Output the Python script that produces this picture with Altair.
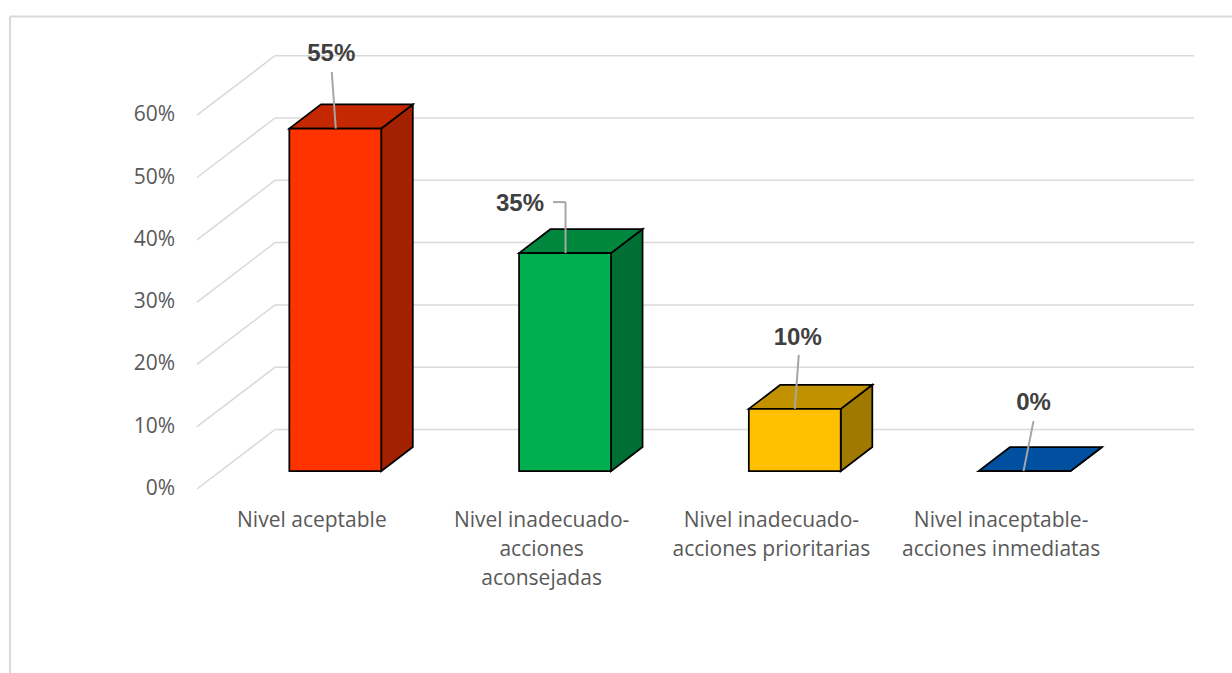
import altair as alt
import pandas as pd

# ---- chart content ----
categories = [
    "Nivel aceptable",
    "Nivel inadecuado-\nacciones\naconsejadas",
    "Nivel inadecuado-\nacciones prioritarias",
    "Nivel inaceptable-\nacciones inmediatas",
]
values = [55, 35, 10, 0]
value_labels = ["55%", "35%", "10%", "0%"]
y_ticks = [0, 10, 20, 30, 40, 50, 60]
y_tick_labels = ["0%", "10%", "20%", "30%", "40%", "50%", "60%"]
front_colors = ["#FF3300", "#00B050", "#FFC000", "#0070C0"]
top_colors = ["#C32800", "#00873D", "#C29100", "#00509F"]
side_colors = ["#A12100", "#006F33", "#A07A00", "#003F80"]

# ---- layout (pixels) ----
W, H = 1232, 673
ORIGIN_X, ORIGIN_Y = 197.0, 489.0      # front-left corner of the floor at 0%
CAT_PX = 229.75                        # width of one category slot
PCT_PX = 6.23                          # height of one percentage point
DEPTH_PX = (78.0, 59.5)                # oblique shift from front edge to back wall
BAR_DEPTH = (0.30, 0.705)              # bar front / back as a fraction of floor depth
BAR_WIDTH = 0.40
label_offsets = [(-4, -75), (-45, -49), (3, -71), (9, -68)]
leader_paths = [
    [(-3.5, -56.5), (0.5, 0)],
    [(-12, -51), (0.5, -51), (0.5, 0)],
    [(4, -54), (0, 0)],
    [(9, -50), (-1, 0)],
]

KX = DEPTH_PX[0] / CAT_PX
KY = DEPTH_PX[1] / PCT_PX


def project(c, v, d):
    """Category/percent point at depth d (0 = front, 1 = back wall) in data units."""
    return c + KX * d, v + KY * d


def shift(pt, dx, dy):
    return pt[0] + dx / CAT_PX, pt[1] - dy / PCT_PX


x_scale = alt.Scale(domain=[-ORIGIN_X / CAT_PX, (W - ORIGIN_X) / CAT_PX], nice=False, zero=False)
y_scale = alt.Scale(domain=[(ORIGIN_Y - H) / PCT_PX, ORIGIN_Y / PCT_PX], nice=False, zero=False)
n = len(categories)

# gridlines: diagonal on the side wall + horizontal on the back wall
grid_rows = []
for t in y_ticks:
    a, b, c = project(0, t, 0), project(0, t, 1), project(n, t, 1)
    grid_rows.append(dict(x=a[0], y=a[1], x2=b[0], y2=b[1]))
    grid_rows.append(dict(x=b[0], y=b[1], x2=c[0], y2=c[1]))
grid_df = pd.DataFrame(grid_rows)

front_rows, side_rows, top_rows, anchors = [], [], [], []
d0, d1 = BAR_DEPTH
for i, v in enumerate(values):
    xl, xr = i + 0.5 - BAR_WIDTH / 2, i + 0.5 + BAR_WIDTH / 2
    fl0, ft0 = project(xl, 0, d0), project(xl, v, d0)
    fr0, frt0 = project(xr, 0, d0), project(xr, v, d0)
    fr1, frt1 = project(xr, 0, d1), project(xr, v, d1)
    tl1 = project(xl, v, d1)
    front_rows.append(dict(bar=i, x=fl0[0], x2=fr0[0], y=fl0[1], y2=ft0[1], fill=front_colors[i]))
    side_rows.append(dict(bar=i, x=fr0[0], y=frt0[1], y2=fr0[1], fill=side_colors[i]))
    side_rows.append(dict(bar=i, x=fr1[0], y=frt1[1], y2=fr1[1], fill=side_colors[i]))
    top_rows.append(dict(bar=i, y=ft0[1], x=ft0[0], x2=frt0[0], fill=top_colors[i]))
    top_rows.append(dict(bar=i, y=tl1[1], x=tl1[0], x2=frt1[0], fill=top_colors[i]))
    anchors.append(project(i + 0.5, v, d0))

front_df = pd.DataFrame(front_rows)
side_df = pd.DataFrame(side_rows)
top_df = pd.DataFrame(top_rows)

leader_rows = []
for i, path in enumerate(leader_paths):
    pts = [shift(anchors[i], dx, dy) for dx, dy in path]
    for p, q in zip(pts[:-1], pts[1:]):
        leader_rows.append(dict(x=p[0], y=p[1], x2=q[0], y2=q[1]))
leader_df = pd.DataFrame(leader_rows)

label_rows = []
for i, (dx, dy) in enumerate(label_offsets):
    p = shift(anchors[i], dx, dy)
    label_rows.append(dict(x=p[0], y=p[1], text=value_labels[i]))
label_df = pd.DataFrame(label_rows)

cat_df = pd.DataFrame(dict(x=[i + 0.5 for i in range(n)], y=[0] * n, text=categories))
tick_df = pd.DataFrame(dict(x=[0] * len(y_ticks), y=y_ticks, text=y_tick_labels))

X = lambda f="x": alt.X(f"{f}:Q", scale=x_scale, axis=None)
Y = lambda f="y": alt.Y(f"{f}:Q", scale=y_scale, axis=None)

grid = alt.Chart(grid_df).mark_rule(color="#D9D9D9", strokeWidth=1.5).encode(
    x=X(), y=Y(), x2="x2:Q", y2="y2:Q"
)

side = alt.Chart(side_df).mark_area(
    orient="vertical", stroke="#000000", strokeWidth=1.75, strokeJoin="miter"
).encode(
    x=X(), y=Y(), y2="y2:Q", detail="bar:N", fill=alt.Fill("fill:N", scale=None)
)

top = alt.Chart(top_df).mark_area(
    orient="horizontal", stroke="#000000", strokeWidth=1.75, strokeJoin="miter"
).encode(
    y=Y(), x=X(), x2="x2:Q", detail="bar:N", fill=alt.Fill("fill:N", scale=None)
)

front = alt.Chart(front_df).mark_rect(stroke="#000000", strokeWidth=1.75).encode(
    x=X(), x2="x2:Q", y=Y(), y2="y2:Q", fill=alt.Fill("fill:N", scale=None)
)

leaders = alt.Chart(leader_df).mark_rule(color="#A6A6A6", strokeWidth=2).encode(
    x=X(), y=Y(), x2="x2:Q", y2="y2:Q"
)

labels = alt.Chart(label_df).mark_text(
    font="Liberation Sans", fontSize=24, fontWeight="bold", color="#404040",
    align="center", baseline="middle",
).encode(x=X(), y=Y(), text="text:N")

cat_labels = alt.Chart(cat_df).mark_text(
    font="Open Sans", fontSize=21, color="#595959", align="center",
    baseline="top", lineBreak="\n", lineHeight=29, dy=21,
).encode(x=X(), y=Y(), text="text:N")

tick_labels = alt.Chart(tick_df).mark_text(
    font="Open Sans", fontSize=21, color="#595959", align="right",
    baseline="middle", dx=-22,
).encode(x=X(), y=Y(), text="text:N")

border_top = alt.Chart(pd.DataFrame({"k": [0]})).mark_rule(color="#D9D9D9", strokeWidth=2).encode(
    x=alt.value(10), x2=alt.value(W), y=alt.value(16.5)
)
border_left = alt.Chart(pd.DataFrame({"k": [0]})).mark_rule(color="#D9D9D9", strokeWidth=2).encode(
    x=alt.value(10), y=alt.value(16.5), y2=alt.value(H)
)

chart = alt.layer(
    grid, side, top, front, leaders, labels, cat_labels, tick_labels, border_top, border_left
).properties(
    width=W, height=H, autosize=alt.AutoSizeParams(type="none"), padding=0,
    background="#FFFFFF",
).configure_view(stroke=None)

chart.save("out.html", embed_options={"renderer": "svg", "actions": False})
